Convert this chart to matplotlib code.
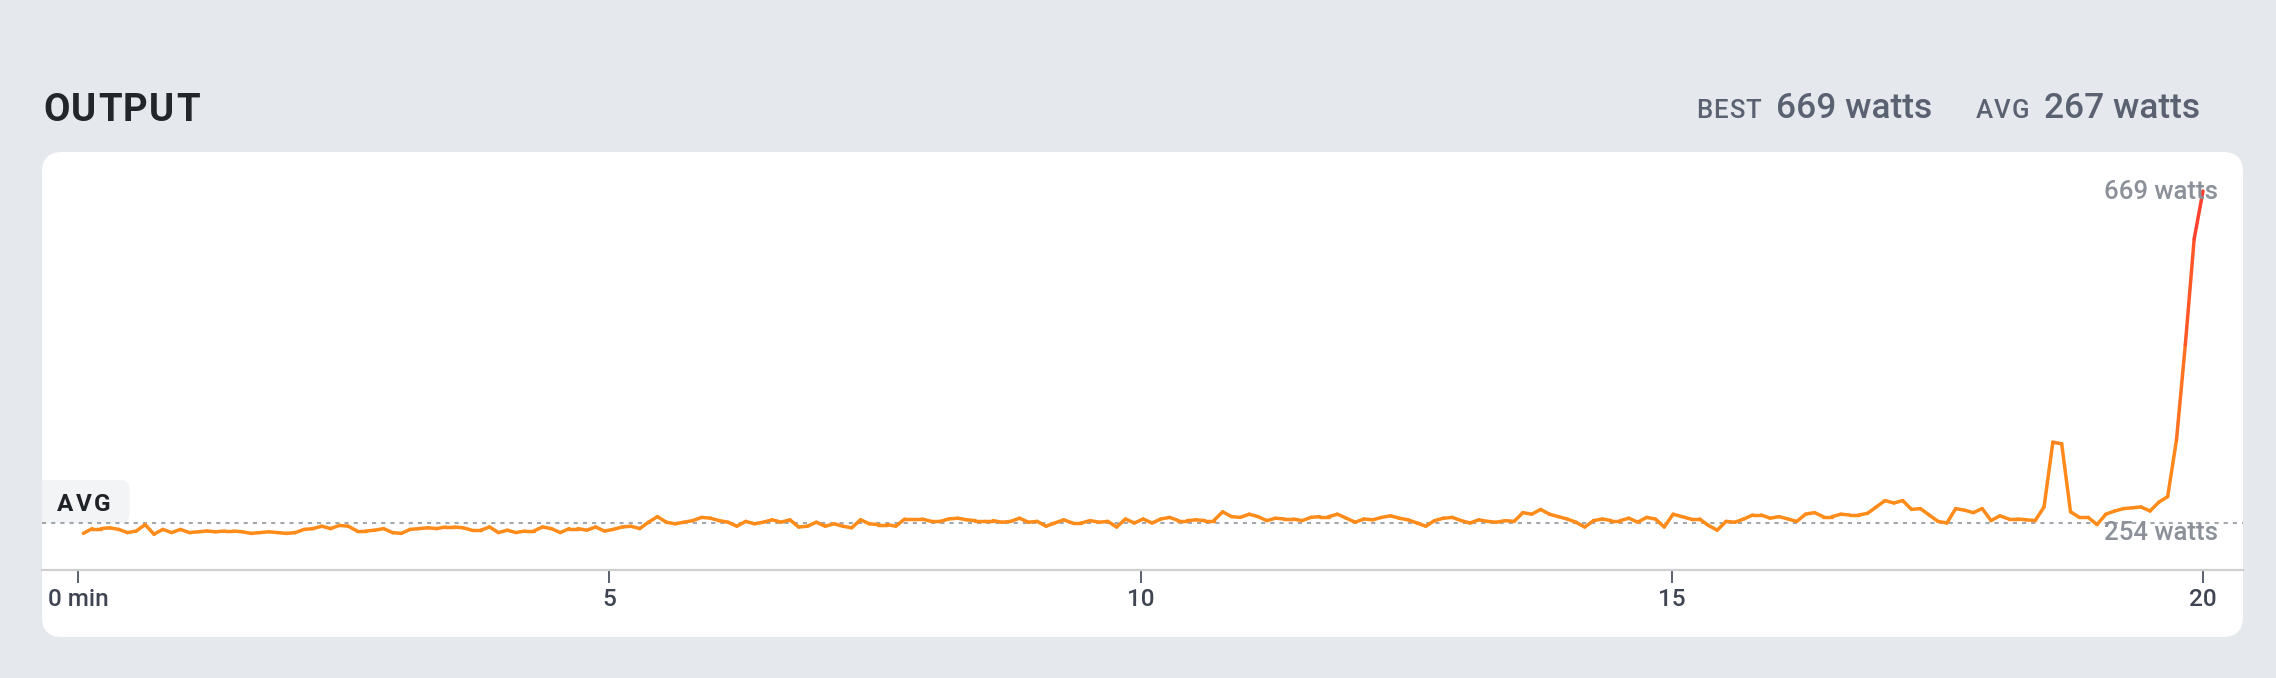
import numpy as np
import matplotlib
matplotlib.use("Agg")
import matplotlib.pyplot as plt
from matplotlib.patches import FancyBboxPatch
from matplotlib.collections import LineCollection
from matplotlib.colors import LinearSegmentedColormap, Normalize
from matplotlib.font_manager import FontProperties

# ---------------- data ----------------
watts = [
    241, 247, 247, 248, 246, 242, 244, 252, 240, 246,
    242, 246, 242, 243, 244, 243, 244, 244, 243, 241,
    242, 243, 242, 241, 242, 246, 247, 250, 247, 251,
    250, 244, 244, 245, 247, 242, 241, 246, 247, 248,
    247, 249, 249, 248, 245, 245, 249, 242, 245, 242,
    244, 244, 249, 247, 242, 247, 247, 245, 249, 244,
    246, 249, 250, 247, 255, 262, 255, 253, 255, 257,
    261, 260, 257, 255, 250, 256, 253, 255, 258, 255,
    258, 249, 250, 255, 250, 253, 250, 248, 258, 253,
    252, 252, 250, 259, 259, 259, 256, 256, 259, 260,
    258, 257, 257, 257, 255, 256, 260, 255, 256, 250,
    254, 258, 254, 254, 257, 255, 256, 249, 259, 254,
    259, 254, 259, 261, 257, 257, 258, 257, 257, 268,
    262, 261, 265, 262, 257, 260, 259, 259, 257, 261,
    262, 262, 265, 260, 255, 259, 258, 261, 263, 260,
    258, 254, 250, 257, 260, 261, 257, 254, 258, 256,
    255, 257, 256, 267, 265, 271, 265, 262, 259, 255,
    249, 257, 259, 257, 257, 260, 255, 261, 259, 249,
    265, 262, 259, 259, 251, 245, 256, 255, 259, 264,
    264, 260, 262, 259, 256, 265, 267, 262, 262, 265,
    264, 264, 266, 274, 282, 279, 282, 271, 272, 264,
    256, 254, 272, 270, 267, 272, 257, 263, 259, 259,
    258, 257, 274, 355, 353, 268, 261, 261, 252, 265,
    269, 272, 273, 274, 269, 280, 287, 358, 477, 609,
    669,
]
sample_seconds = np.linspace(3, 1200, len(watts))   # ~5 s samples
minutes = sample_seconds / 60.0

tick_minutes = [0, 5, 10, 15, 20]
tick_labels = ["0 min", "5", "10", "15", "20"]

title = "OUTPUT"
best_watts = 669
avg_watts = 267
avg_line_watts = 254

# ---------------- styling ----------------
W, H, DPI = 2276, 678, 100
BG = "#e5e8ec"
FAM = ["Roboto", "DejaVu Sans"]
ORANGE = "#ff8c1a"
RED = "#ff3b2f"

fig = plt.figure(figsize=(W / DPI, H / DPI), dpi=DPI)
fig.patch.set_facecolor(BG)

# pixel-space background axes
bg = fig.add_axes([0, 0, 1, 1], zorder=0)
bg.set_xlim(0, W)
bg.set_ylim(H, 0)
bg.axis("off")

fig.canvas.draw()
renderer = fig.canvas.get_renderer()


def text_w(s, prop):
    return renderer.get_text_width_height_descent(s, prop, ismath=False)[0]


def tracked(x, y, s, size, weight, color, tracking, ha="left", zorder=3):
    prop = FontProperties(family=FAM, size=size, weight=weight)
    total = text_w(s, prop) + tracking * (len(s) - 1)
    x0 = x - total if ha == "right" else x
    for i, ch in enumerate(s):
        off = text_w(s[:i], prop) if i else 0.0
        bg.text(x0 + off + i * tracking, y, ch, ha="left", va="baseline",
                fontproperties=prop, color=color, zorder=zorder)
    return x0


card_l, card_t, card_r, card_b = 42, 152, 2243, 637
card = FancyBboxPatch((card_l, card_t), card_r - card_l, card_b - card_t,
                      boxstyle="round,pad=0,rounding_size=20",
                      fc="white", ec="none")
bg.add_patch(card)

# AVG badge
badge = FancyBboxPatch((20, 480), 109.5, 43,
                       boxstyle="round,pad=0,rounding_size=9",
                       fc="#f3f4f6", ec="none")
bg.add_patch(badge)
badge.set_clip_path(card)
tracked(57, 511, "AVG", 17.5, "bold", "#1f2227", 2.5)

# Title
tracked(43, 121, title, 27.5, "bold", "#22252a", 1.6)

# Right header, laid out right-to-left
HEAD = "#5a6272"
x_r = 2200
t = bg.text(x_r, 118, f"{avg_watts} watts", ha="right", va="baseline",
            fontsize=25.5, fontweight="medium", color=HEAD, family=FAM)
x_r = t.get_window_extent(renderer).x0 - 15
x_r = tracked(x_r, 118, "AVG", 18.5, "medium", HEAD, 1.0, ha="right")
x_r -= 43
t = bg.text(x_r, 118, f"{best_watts} watts", ha="right", va="baseline",
            fontsize=25.5, fontweight="medium", color=HEAD, family=FAM)
x_r = t.get_window_extent(renderer).x0 - 15
tracked(x_r, 118, "BEST", 18.5, "medium", HEAD, 1.0, ha="right")

# ---------------- chart axes ----------------
ax_b, ax_t = 570, 152
ax = fig.add_axes([card_l / W, (H - ax_b) / H, (card_r - card_l) / W, (ax_b - ax_t) / H],
                  zorder=2)
ax.set_facecolor("none")
px_per_min = (2203 - 78) / 20.0
ax.set_xlim((card_l - 78) / px_per_min, 20 + (card_r - 2203) / px_per_min)
px_per_watt = 0.8
ax.set_ylim(avg_line_watts - (ax_b - 523) / px_per_watt,
            avg_line_watts + (523 - ax_t) / px_per_watt)

for s in ("top", "left", "right"):
    ax.spines[s].set_visible(False)
ax.spines["bottom"].set_color("#cfcfcf")
ax.spines["bottom"].set_linewidth(1.6)
ax.set_yticks([])
ax.set_xticks(tick_minutes)
ax.set_xticklabels(tick_labels, family=FAM, fontweight="medium")
ax.tick_params(axis="x", length=9, width=1.4, color="#5b616c", pad=4,
               labelsize=17.5, labelcolor="#3f4552")

# average dotted line
ax.axhline(avg_line_watts, color="#a3a7ae", lw=1.5, ls=(0, (2.0, 2.4)), zorder=1)

# power line coloured by value
pts = np.column_stack([minutes, np.asarray(watts, dtype=float)])
segs = np.stack([pts[:-1], pts[1:]], axis=1)
mid = (pts[:-1, 1] + pts[1:, 1]) / 2
cmap = LinearSegmentedColormap.from_list("pw", [ORANGE, RED])
norm = Normalize(vmin=300, vmax=max(watts))
lc = LineCollection(segs, colors=cmap(norm(mid)), linewidths=2.5,
                    capstyle="round", joinstyle="round", zorder=3)
ax.add_collection(lc)

# value labels
LBL = "#8b9099"
ax.annotate(f"{best_watts} watts", xy=(1, max(watts)), xycoords=("axes fraction", "data"),
            xytext=(-(card_r - 2218), -1.5), textcoords="offset pixels",
            ha="right", va="center", fontsize=18.5, fontweight="medium",
            color=LBL, family=FAM, zorder=4)
ax.annotate(f"{avg_line_watts} watts", xy=(1, avg_line_watts), xycoords=("axes fraction", "data"),
            xytext=(-(card_r - 2218), -10), textcoords="offset pixels",
            ha="right", va="center", fontsize=18.5, fontweight="medium",
            color=LBL, family=FAM, zorder=4)

fig.savefig("out.png", dpi=DPI, facecolor=fig.get_facecolor())
